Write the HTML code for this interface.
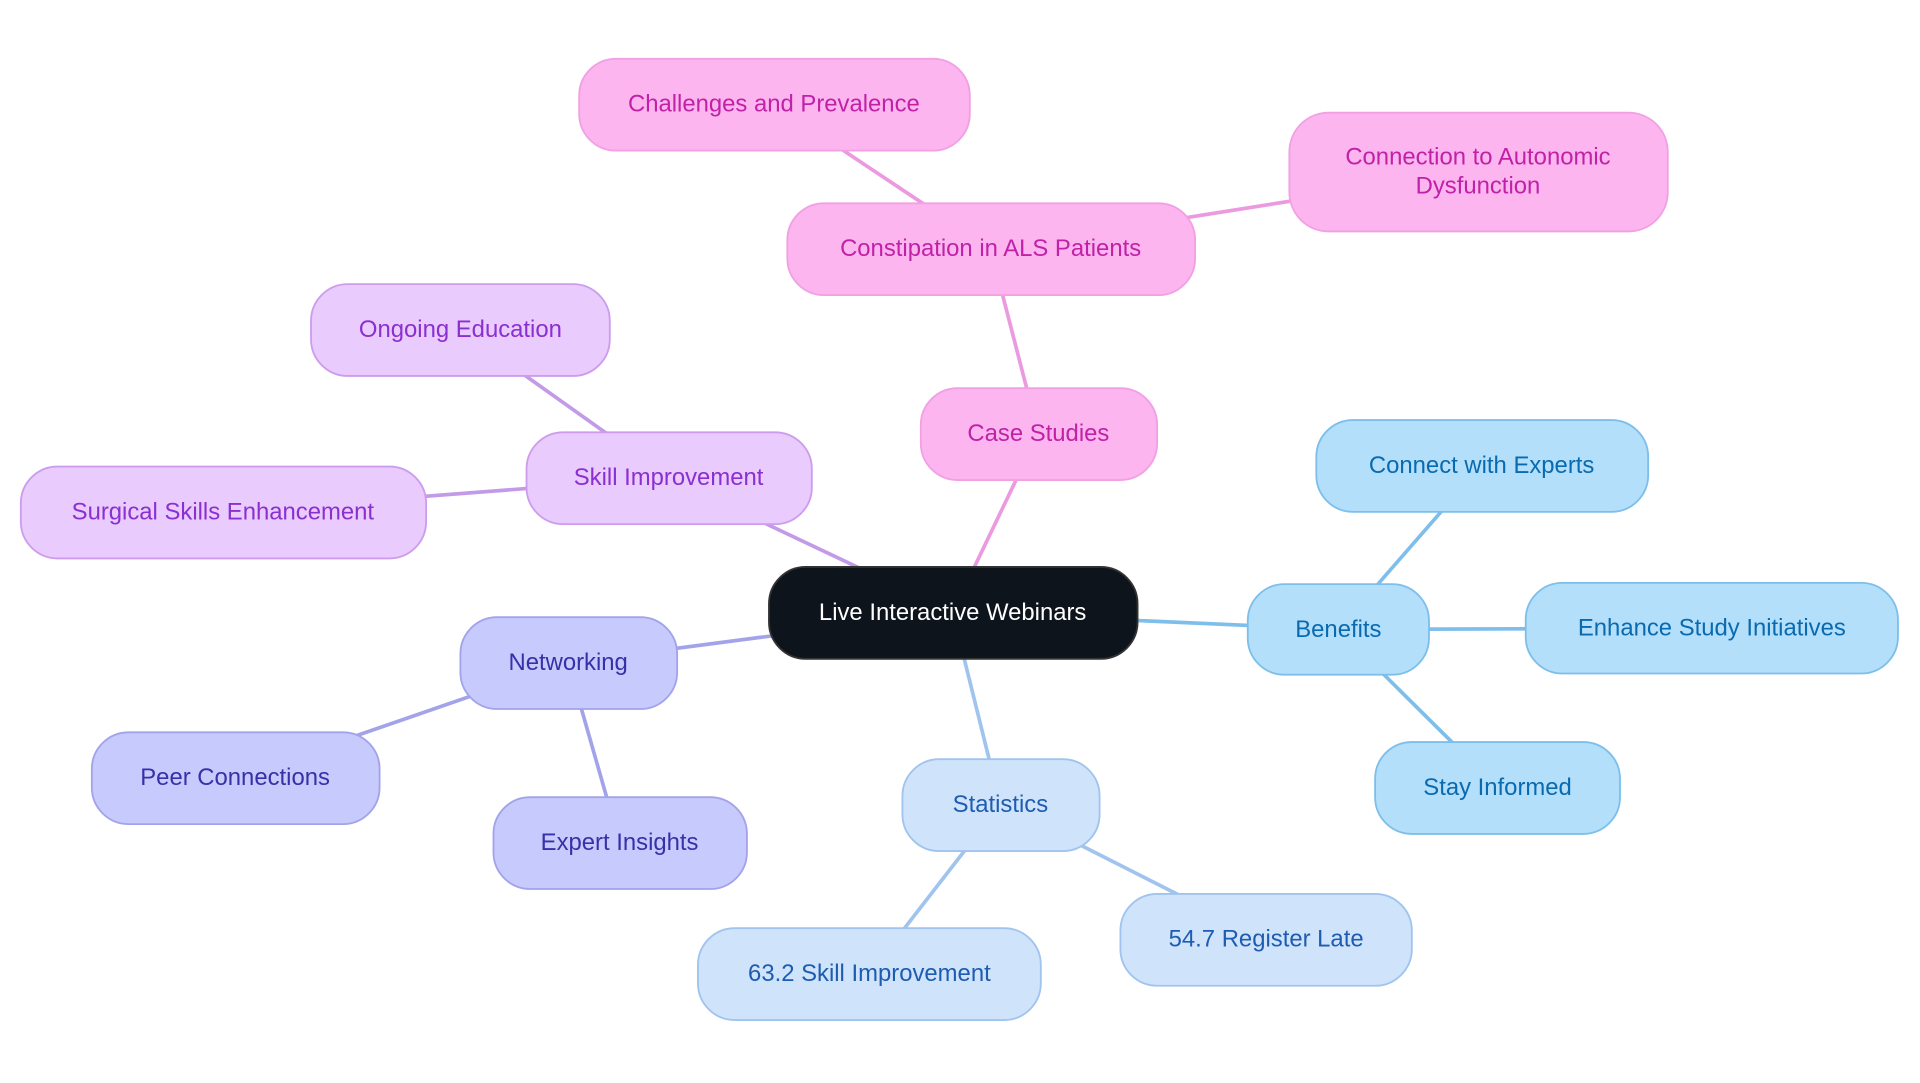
<!DOCTYPE html>
<html><head><meta charset="utf-8"><style>
html,body{margin:0;padding:0;background:#fff;}
svg{display:block;}
text{font-family:"Liberation Sans",sans-serif;font-size:19.5px;text-anchor:middle;dominant-baseline:central;}
</style></head><body>
<svg width="1920" height="1083" viewBox="0 0 1568 884.4" xmlns="http://www.w3.org/2000/svg">
<g stroke-width="3" fill="none">
<line x1="778" y1="500" x2="848" y2="354" stroke="#ec9ae0"/>
<line x1="848" y1="354" x2="809" y2="203" stroke="#ec9ae0"/>
<line x1="809" y1="203" x2="632" y2="85" stroke="#ec9ae0"/>
<line x1="809" y1="203" x2="1207" y2="140" stroke="#ec9ae0"/>
<line x1="778" y1="500" x2="546" y2="390" stroke="#c39ae8"/>
<line x1="546" y1="390" x2="376" y2="269" stroke="#c39ae8"/>
<line x1="546" y1="390" x2="182" y2="418" stroke="#c39ae8"/>
<line x1="778" y1="500" x2="464" y2="541" stroke="#a3a3ea"/>
<line x1="464" y1="541" x2="192" y2="635" stroke="#a3a3ea"/>
<line x1="464" y1="541" x2="506" y2="688" stroke="#a3a3ea"/>
<line x1="778" y1="500" x2="817" y2="657" stroke="#a0c4ee"/>
<line x1="817" y1="657" x2="710" y2="795" stroke="#a0c4ee"/>
<line x1="817" y1="657" x2="1034" y2="767" stroke="#a0c4ee"/>
<line x1="778" y1="500" x2="1093" y2="514" stroke="#7dbfea"/>
<line x1="1093" y1="514" x2="1210" y2="380" stroke="#7dbfea"/>
<line x1="1093" y1="514" x2="1398" y2="513" stroke="#7dbfea"/>
<line x1="1093" y1="514" x2="1223" y2="643" stroke="#7dbfea"/>
</g>
<g stroke-width="1.5">
<rect x="628" y="463" width="301" height="75" rx="30" fill="#0d141b" stroke="#333"/>
<rect x="473" y="48" width="319" height="75" rx="30" fill="#fdb5f0" stroke="#f0a0e3"/>
<rect x="643" y="166" width="333" height="75" rx="30" fill="#fdb5f0" stroke="#f0a0e3"/>
<rect x="1053" y="92" width="309" height="97" rx="32" fill="#fdb5f0" stroke="#f0a0e3"/>
<rect x="752" y="317" width="193" height="75" rx="30" fill="#fdb5f0" stroke="#f0a0e3"/>
<rect x="254" y="232" width="244" height="75" rx="30" fill="#e9cbfd" stroke="#cd9cec"/>
<rect x="430" y="353" width="233" height="75" rx="30" fill="#e9cbfd" stroke="#cd9cec"/>
<rect x="17" y="381" width="331" height="75" rx="30" fill="#e9cbfd" stroke="#cd9cec"/>
<rect x="376" y="504" width="177" height="75" rx="30" fill="#c7cafd" stroke="#a3a3ea"/>
<rect x="75" y="598" width="235" height="75" rx="30" fill="#c7cafd" stroke="#a3a3ea"/>
<rect x="403" y="651" width="207" height="75" rx="30" fill="#c7cafd" stroke="#a3a3ea"/>
<rect x="737" y="620" width="161" height="75" rx="30" fill="#cfe3fb" stroke="#a0c4ee"/>
<rect x="570" y="758" width="280" height="75" rx="30" fill="#cfe3fb" stroke="#a0c4ee"/>
<rect x="915" y="730" width="238" height="75" rx="30" fill="#cfe3fb" stroke="#a0c4ee"/>
<rect x="1019" y="477" width="148" height="74" rx="30" fill="#b3dffb" stroke="#7dbfea"/>
<rect x="1075" y="343" width="271" height="75" rx="30" fill="#b3dffb" stroke="#7dbfea"/>
<rect x="1246" y="476" width="304" height="74" rx="30" fill="#b3dffb" stroke="#7dbfea"/>
<rect x="1123" y="606" width="200" height="75" rx="30" fill="#b3dffb" stroke="#7dbfea"/>
</g>
<text x="778" y="500" fill="#ffffff">Live Interactive Webinars</text>
<g fill="#c021a6">
<text x="632" y="85">Challenges and Prevalence</text>
<text x="809" y="203">Constipation in ALS Patients</text>
<text x="1207" y="128">Connection to Autonomic</text>
<text x="1207" y="152">Dysfunction</text>
<text x="848" y="354">Case Studies</text>
</g>
<g fill="#8a2fd0">
<text x="376" y="269">Ongoing Education</text>
<text x="546" y="390">Skill Improvement</text>
<text x="182" y="418">Surgical Skills Enhancement</text>
</g>
<g fill="#3730a8">
<text x="464" y="541">Networking</text>
<text x="192" y="635">Peer Connections</text>
<text x="506" y="688">Expert Insights</text>
</g>
<g fill="#1d5cb0">
<text x="817" y="657">Statistics</text>
<text x="710" y="795">63.2 Skill Improvement</text>
<text x="1034" y="767">54.7 Register Late</text>
</g>
<g fill="#0a6aaf">
<text x="1093" y="514">Benefits</text>
<text x="1210" y="380">Connect with Experts</text>
<text x="1398" y="513">Enhance Study Initiatives</text>
<text x="1223" y="643">Stay Informed</text>
</g>
</svg>
</body></html>
